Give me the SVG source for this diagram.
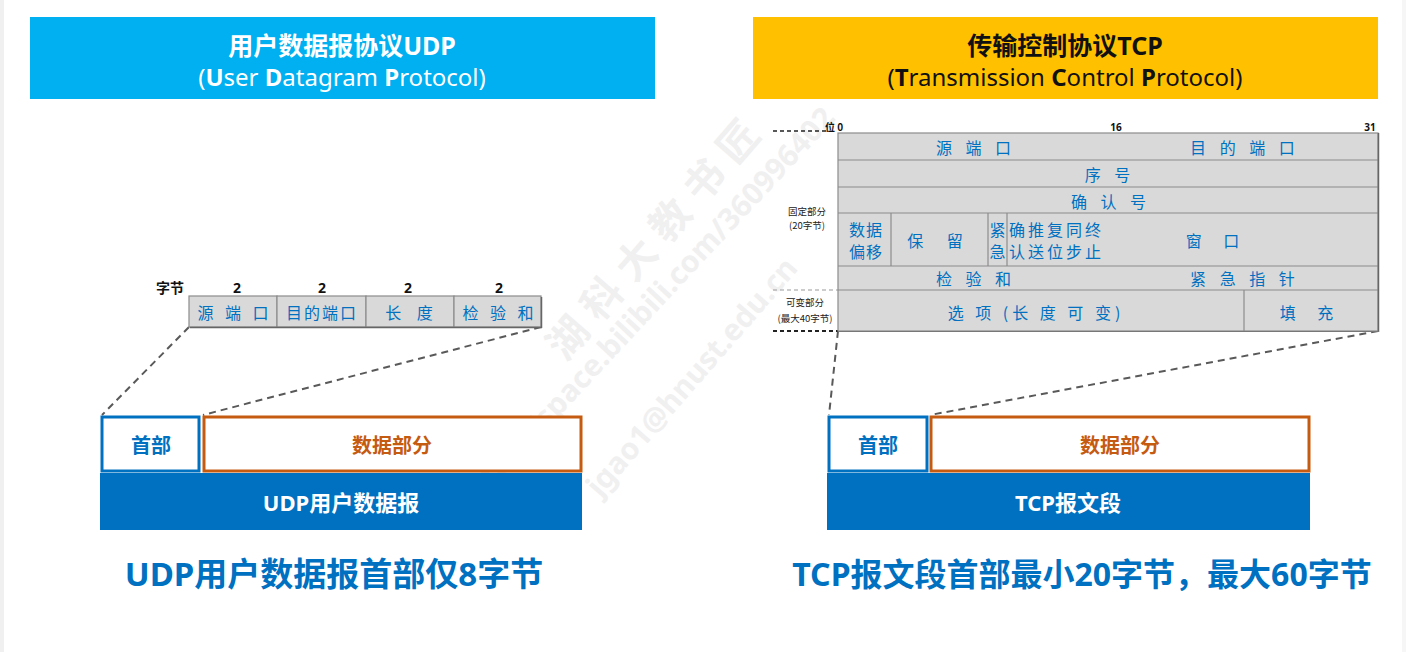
<svg xmlns="http://www.w3.org/2000/svg" width="1406" height="652" viewBox="0 0 1406 652">
<style>
.f{font-family:"Noto Sans","Noto Sans CJK SC",sans-serif;}
.c{font-family:"Noto Sans CJK SC","Noto Sans",sans-serif;}
.mid{text-anchor:middle;dominant-baseline:central;}
.st{dominant-baseline:central;}
.b{font-weight:bold;}
.wm{font-family:"Noto Sans","Noto Sans CJK SC",sans-serif;font-weight:bold;fill:#f0f0f0;}
.cell{fill:#d9d9d9;stroke:#8c8c8c;stroke-width:1.2;}
.fld{fill:#0070c0;font-size:16px;}
.dash{fill:none;stroke:#595959;stroke-width:2;stroke-dasharray:7 5;}
.hd{fill:#ffffff;stroke:#0070c0;stroke-width:3;}
.dt{fill:#ffffff;stroke:#c55a11;stroke-width:3;}
.tiny{font-size:9.5px;fill:#222;}
.ln{stroke:#8c8c8c;stroke-width:1.2;}
</style>

<rect x="0" y="0" width="1406" height="652" fill="#ffffff"/>
<rect x="0" y="0" width="4" height="652" fill="#f0f0f0"/>
<rect x="1402" y="0" width="4" height="652" fill="#f6f6f6"/>

<!-- watermark -->
<g id="watermark">
  <text class="wm c" font-size="40" letter-spacing="12" transform="translate(568,338) rotate(-49)" x="-20" y="14">湖科大教书匠</text>
  <text class="wm f" font-size="30" transform="translate(470,512) rotate(-47)" x="0" y="0">https://space.bilibili.com/360996402</text>
  <text class="wm f" font-size="30" transform="translate(600,498) rotate(-49)" x="0" y="0">jgao1@hnust.edu.cn</text>
</g>

<!-- titles -->
<g id="udp-title">
  <rect x="30" y="17" width="625" height="82" fill="#00b0f0"/>
  <text class="f mid b" x="342" y="45" font-size="25" fill="#ffffff">用户数据报协议UDP</text>
  <text class="f mid" x="342" y="76" font-size="24" fill="#ffffff">(<tspan font-weight="bold">U</tspan>ser <tspan font-weight="bold">D</tspan>atagram <tspan font-weight="bold">P</tspan>rotocol)</text>
</g>
<g id="tcp-title">
  <rect x="753" y="17" width="625" height="82" fill="#ffc000"/>
  <text class="f mid b" x="1065" y="45" font-size="25" fill="#111111">传输控制协议TCP</text>
  <text class="f mid" x="1065" y="76" font-size="24" fill="#111111">(<tspan font-weight="bold">T</tspan>ransmission <tspan font-weight="bold">C</tspan>ontrol <tspan font-weight="bold">P</tspan>rotocol)</text>
</g>

<!-- connectors -->
<g id="connectors">
  <line class="dash" x1="189" y1="327" x2="102" y2="415"/>
  <line class="dash" x1="541" y1="327" x2="203" y2="415"/>
  <line class="dash" x1="838" y1="331" x2="829" y2="415"/>
  <line class="dash" x1="1378" y1="331" x2="930" y2="415"/>
  <line x1="773" y1="131" x2="826" y2="131" stroke="#222" stroke-width="1.5" stroke-dasharray="4 3"/>
  <line x1="773" y1="290" x2="838" y2="290" stroke="#999" stroke-width="1.2" stroke-dasharray="4 3"/>
  <line x1="773" y1="331" x2="838" y2="331" stroke="#222" stroke-width="2" stroke-dasharray="4 3"/>
</g>

<!-- UDP header fields -->
<g id="udp-fields">
  <text class="c mid b" x="170" y="287" font-size="14" fill="#111">字节</text>
  <text class="f mid b" x="237" y="287" font-size="14" fill="#111">2</text>
  <text class="f mid b" x="322" y="287" font-size="14" fill="#111">2</text>
  <text class="f mid b" x="408" y="287" font-size="14" fill="#111">2</text>
  <text class="f mid b" x="499" y="287" font-size="14" fill="#111">2</text>
  <rect class="cell" x="189" y="296" width="88" height="31"/>
  <rect class="cell" x="277" y="296" width="89" height="31"/>
  <rect class="cell" x="366" y="296" width="88" height="31"/>
  <rect class="cell" x="454" y="296" width="87" height="31"/>
  <line x1="541.5" y1="297" x2="541.5" y2="328" stroke="#666" stroke-width="1.5"/>
  <line x1="190" y1="327.5" x2="542" y2="327.5" stroke="#666" stroke-width="1.5"/>
  <text class="c mid fld" x="235" y="312" letter-spacing="4">源 端 口</text>
  <text class="c mid fld" x="322" y="312" letter-spacing="2">目的端口</text>
  <text class="c mid fld" x="412" y="312" letter-spacing="6">长 度</text>
  <text class="c mid fld" x="500" y="312" letter-spacing="4">检 验 和</text>
</g>

<!-- UDP datagram -->
<g id="udp-header">
  <rect class="hd" x="102" y="417" width="97" height="54"/>
  <text class="c mid b" x="151" y="444" font-size="20" fill="#0070c0">首部</text>
</g>
<g id="udp-data">
  <rect class="dt" x="204" y="417" width="377" height="54"/>
  <text class="c mid b" x="392" y="444" font-size="20" fill="#c55a11">数据部分</text>
</g>
<g id="udp-bar">
  <rect x="100" y="473" width="482" height="57" fill="#0070c0"/>
  <text class="f mid b" x="341" y="502" font-size="22" fill="#ffffff">UDP用户数据报</text>
</g>

<!-- TCP header table -->
<g id="tcp-fields">
  <text class="c b" x="825" y="131" font-size="10" fill="#111">位 0</text>
  <text class="f mid b" x="1116" y="127" font-size="10" fill="#111">16</text>
  <text class="f mid b" x="1370" y="127" font-size="10" fill="#111">31</text>
  <rect class="cell" x="838" y="133" width="540" height="198"/>
  <line class="ln" x1="838" y1="160" x2="1378" y2="160"/>
  <line class="ln" x1="838" y1="187" x2="1378" y2="187"/>
  <line class="ln" x1="838" y1="213" x2="1378" y2="213"/>
  <line class="ln" x1="838" y1="266" x2="1378" y2="266"/>
  <line class="ln" x1="838" y1="290" x2="1378" y2="290"/>
  <line class="ln" x1="891" y1="213" x2="891" y2="266"/>
  <line class="ln" x1="988" y1="213" x2="988" y2="266"/>
  <line class="ln" x1="1007" y1="213" x2="1007" y2="266"/>
  <line class="ln" x1="1244" y1="290" x2="1244" y2="331"/>
  <line x1="1378.5" y1="133" x2="1378.5" y2="332" stroke="#666" stroke-width="1.5"/>
  <line x1="838" y1="331.5" x2="1379" y2="331.5" stroke="#777" stroke-width="1.2"/>

  <text class="c mid fld" x="976" y="147" letter-spacing="5">源 端 口</text>
  <text class="c mid fld" x="1245" y="147" letter-spacing="5">目 的 端 口</text>
  <text class="c mid fld" x="1110" y="174" letter-spacing="5">序 号</text>
  <text class="c mid fld" x="1111" y="201" letter-spacing="5">确 认 号</text>
  <text class="c mid fld" x="866" y="229" font-size="17" letter-spacing="1">数据</text>
  <text class="c mid fld" x="866" y="251" font-size="17" letter-spacing="1">偏移</text>
  <text class="c mid fld" x="940" y="240" letter-spacing="10">保 留</text>
  <text class="c mid fld" x="997.5" y="229">紧</text>
  <text class="c mid fld" x="997.5" y="251">急</text>
  <text class="c st fld" x="1009" y="229" letter-spacing="3">确推复同终</text>
  <text class="c st fld" x="1009" y="251" letter-spacing="3">认送位步止</text>
  <text class="c mid fld" x="1217" y="240" letter-spacing="9">窗 口</text>
  <text class="c mid fld" x="976" y="278" letter-spacing="5">检 验 和</text>
  <text class="c mid fld" x="1245" y="278" letter-spacing="5">紧 急 指 针</text>
  <text class="c mid fld" x="1036" y="312" letter-spacing="4">选  项 (长 度 可 变)</text>
  <text class="c mid fld" x="1311" y="312" letter-spacing="9">填 充</text>

  <text class="c mid tiny" x="807" y="211">固定部分</text>
  <text class="c mid tiny" x="807" y="225">(20字节)</text>
  <text class="c mid tiny" x="805" y="302">可变部分</text>
  <text class="c mid tiny" x="805" y="318">(最大40字节)</text>
</g>

<!-- TCP segment -->
<g id="tcp-header">
  <rect class="hd" x="829" y="417" width="98" height="54"/>
  <text class="c mid b" x="878" y="444" font-size="20" fill="#0070c0">首部</text>
</g>
<g id="tcp-data">
  <rect class="dt" x="931" y="417" width="378" height="54"/>
  <text class="c mid b" x="1120" y="444" font-size="20" fill="#c55a11">数据部分</text>
</g>
<g id="tcp-bar">
  <rect x="827" y="473" width="483" height="57" fill="#0070c0"/>
  <text class="f mid b" x="1068" y="502" font-size="22" fill="#ffffff">TCP报文段</text>
</g>

<!-- captions -->
<g id="captions">
  <text class="f mid b" x="334" y="573" font-size="33" fill="#0070c0">UDP用户数据报首部仅8字节</text>
  <text class="f mid b" x="1082" y="573" font-size="32" fill="#0070c0">TCP报文段首部最小20字节，最大60字节</text>
</g>
</svg>
